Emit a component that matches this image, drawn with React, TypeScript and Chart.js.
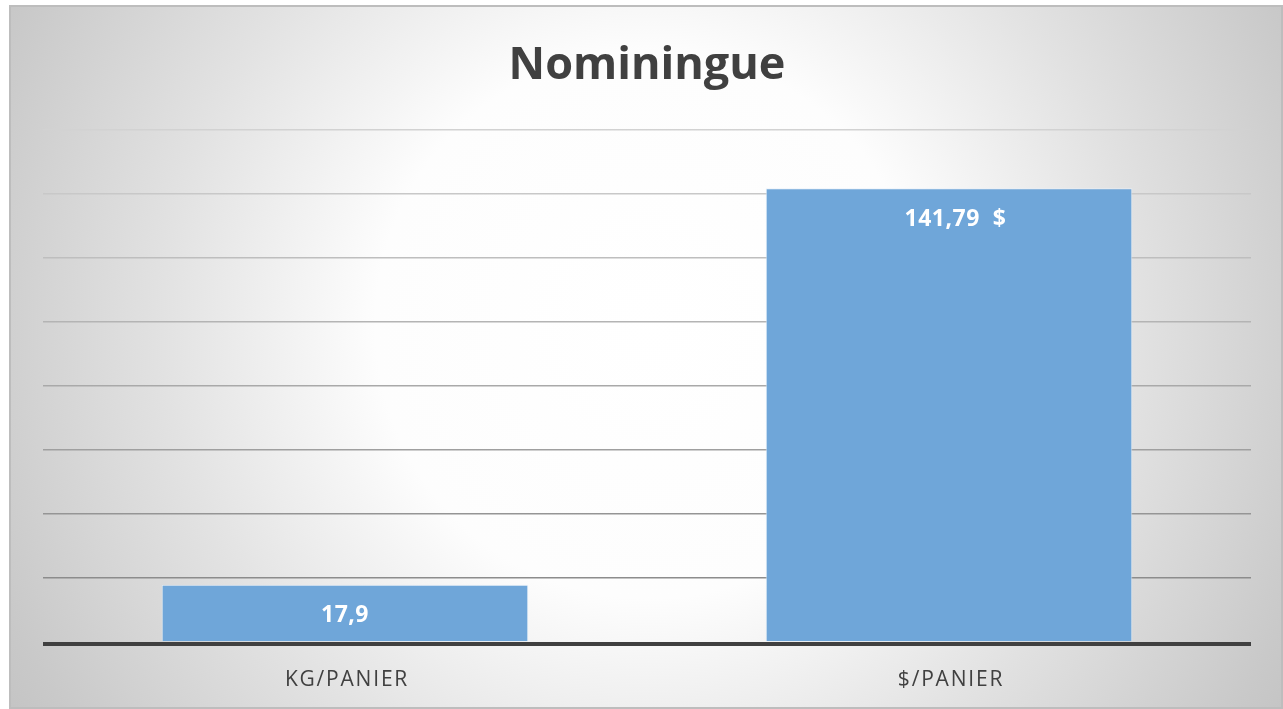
import React, { useEffect, useRef } from "react";
import { Chart, registerables } from "chart.js";

Chart.register(...registerables);

const TITLE = "Nominingue";
const CATEGORIES = ["KG/PANIER", "$/PANIER"];
const VALUES = [17.9, 141.79];
const VALUE_PREFIX = ["", "  "];
const VALUE_SUFFIX = ["", "  $"];
const Y_MIN = 0;
const Y_MAX = 160;
const Y_STEP = 20;
const GRID_COLORS = ["#404040", "#8c8c8c", "#959595", "#9f9f9f", "#a9a9a9", "#b4b4b4", "#bebebe", "#c8c8c8", "#d2d2d2"];

const FONT = "'Open Sans', 'DejaVu Sans', sans-serif";

const bgPlugin = {
  id: "bgPlugin",
  beforeDraw(chart: any) {
    const { ctx, width, height } = chart;
    ctx.save();
    const g = ctx.createRadialGradient(640, 320, 0, 640, 320, 760);
    g.addColorStop(0, "#ffffff");
    g.addColorStop(0.36, "#fdfdfd");
    g.addColorStop(0.64, "#e2e2e2");
    g.addColorStop(0.92, "#c9c9c9");
    g.addColorStop(1, "#c3c3c3");
    ctx.fillStyle = g;
    ctx.fillRect(0, 0, width, height);
    ctx.strokeStyle = "#bdbdbd";
    ctx.lineWidth = 2;
    ctx.strokeRect(1, 1, width - 2, height - 2);
    ctx.restore();
  },
};

const overlayPlugin = {
  id: "overlayPlugin",
  afterDatasetsDraw(chart: any) {
    const { ctx, chartArea, scales } = chart;
    ctx.save();
    // baseline
    const y0 = scales.y.getPixelForValue(0);
    ctx.strokeStyle = "#404040";
    ctx.lineWidth = 4;
    ctx.beginPath();
    ctx.moveTo(chartArea.left, y0 + 2);
    ctx.lineTo(chartArea.right, y0 + 2);
    ctx.stroke();
    // category labels
    ctx.fillStyle = "#404040";
    ctx.font = `21px ${FONT}`;
    ctx.textAlign = "center";
    ctx.textBaseline = "middle";
    try { (ctx as any).letterSpacing = "1.8px"; } catch (e) {}
    CATEGORIES.forEach((c, i) => {
      ctx.fillText(c, scales.x.getPixelForValue(i) + 2, y0 + 38);
    });
    // data labels
    const meta = chart.getDatasetMeta(0);
    ctx.fillStyle = "#ffffff";
    ctx.font = `bold 23px ${FONT}`;
    try { (ctx as any).letterSpacing = "0.5px"; } catch (e) {}
    meta.data.forEach((bar: any, i: number) => {
      const txt = VALUE_PREFIX[i] + String(VALUES[i]).replace(".", ",") + VALUE_SUFFIX[i];
      ctx.fillText(txt, bar.x, bar.y + 31);
    });
    ctx.restore();
  },
};

export default function App() {
  const ref = useRef<HTMLCanvasElement | null>(null);
  useEffect(() => {
    if (!ref.current) return;
    const chart = new Chart(ref.current, {
      type: "bar",
      data: {
        labels: CATEGORIES,
        datasets: [
          {
            data: VALUES,
            backgroundColor: "#6fa6d9",
            borderColor: "rgba(230,240,250,0.8)",
            borderWidth: 1,
            barPercentage: 0.607,
            categoryPercentage: 1,
          },
        ],
      },
      options: {
        animation: false,
        responsive: true,
        maintainAspectRatio: false,
        layout: { padding: { top: 34, left: 34, right: 32, bottom: 0 } },
        plugins: {
          legend: { display: false },
          tooltip: { enabled: false },
          title: {
            display: true,
            text: TITLE,
            color: "#404040",
            font: { family: FONT, size: 45, weight: "bold" },
            padding: { top: 0, bottom: 37 },
          },
        },
        scales: {
          x: {
            grid: { display: false, drawTicks: false },
            border: { display: false },
            ticks: { display: false },
            afterFit: (s: any) => {
              s.height = 67;
            },
          },
          y: {
            min: Y_MIN,
            max: Y_MAX,
            ticks: { display: false, stepSize: Y_STEP },
            border: { display: false },
            grid: {
              drawTicks: false,
              lineWidth: 1.5,
              color: (c: any) => (c.index === 0 ? "rgba(0,0,0,0)" : GRID_COLORS[c.index] || "#d2d2d2"),
            },
          },
        },
      },
      plugins: [bgPlugin, overlayPlugin],
    });
    return () => chart.destroy();
  }, []);
  return (
    <div style={{ position: "fixed", left: 9, top: 5, width: 1274, height: 704 }}>
      <canvas ref={ref} />
    </div>
  );
}
